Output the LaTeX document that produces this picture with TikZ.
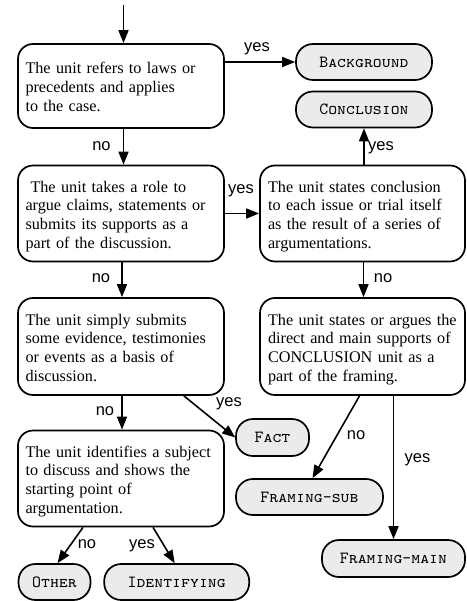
\documentclass[tikz,border=0pt]{standalone}
\usepackage{fontspec}
\setmainfont{Liberation Serif}
\newfontfamily\lblfont{Liberation Sans}
\usetikzlibrary{arrows.meta}
\definecolor{termgray}{gray}{0.92}
\newcommand\tblines[1]{\raisebox{-3pt}[\height][\depth]{\begin{tabular}{@{}l@{}}#1\end{tabular}}}
\begin{document}
\begin{tikzpicture}[x=1pt,y=-1pt,
  ubox/.style={draw, line width=1.7pt, rounded corners=15pt, inner ysep=0pt, align=left,
    font=\fontsize{16.2}{18.8}\selectfont},
  lbox/.style={ubox, text width=191pt, inner xsep=7.5pt},
  rbox/.style={ubox, text width=189pt, inner xsep=8pt},
  term/.style={draw, line width=1.7pt, rounded corners=17pt, fill=termgray, inner sep=0pt,
    font=\fontsize{17}{20}\ttfamily\scshape},
  arr/.style={line width=1.6pt, -{Triangle[length=13pt,width=10pt]}},
  lbl/.style={font=\lblfont\fontsize{16.5}{18}\selectfont, inner sep=0pt}]
\useasboundingbox (0,0) rectangle (466,601);

% decision boxes
\node[lbox, minimum height=84pt] (b1) at (121,86)
  {\tblines{The unit refers to laws or\\precedents and applies\\to the case.}};
\node[lbox, minimum height=96pt] (b2) at (121,213.5)
  {\tblines{\hspace{5pt}The unit takes a role to\\argue claims, statements or\\submits its supports as a\\part of the discussion.}};
\node[rbox, minimum height=96pt] (b3) at (362.5,213.5)
  {\tblines{The unit states conclusion\\to each issue or trial itself\\as the result of a series of\\argumentations.}};
\node[lbox, minimum height=97pt] (b4) at (121,346.5)
  {\tblines{The unit simply submits\\some evidence, testimonies\\or events as a basis of\\discussion.}};
\node[rbox, minimum height=97pt] (b5) at (362.5,346.5)
  {\tblines{The unit states or argues the\\direct and main supports of\\CONCLUSION unit as a\\part of the framing.}};
\node[lbox, minimum height=96pt] (b6) at (121,478.5)
  {\tblines{The unit identifies a subject\\to discuss and shows the\\starting point of\\argumentation.}};

% terminal nodes
\node[term, minimum width=136pt, minimum height=36pt] (bg) at (364,62) {Background};
\node[term, minimum width=136pt, minimum height=36pt] (con) at (364,109.5) {Conclusion};
\node[term, minimum width=73pt, minimum height=37pt] (fact) at (272.5,437.5) {Fact};
\node[term, minimum width=147pt, minimum height=36pt] (fsub) at (309.5,497) {Framing-sub};
\node[term, minimum width=143pt, minimum height=37pt] (fmain) at (393.5,558.5) {Framing-main};
\node[term, minimum width=72pt, minimum height=36pt] (other) at (54.5,582) {Other};
\node[term, minimum width=145pt, minimum height=36pt] (ident) at (176.7,582) {Identifying};

% connectors
\coordinate (start) at (123.5,5);
\draw[arr] (start) -- (start |- b1.north);
\draw[arr] (b1.east |- bg.west) -- (bg.west);
\draw[arr] (b1.south -| start) -- (b2.north -| start);
\draw[arr] (b2.east) -- (b3.west);
\draw[arr] (b3.north -| con.south) -- (con.south);
\draw[arr] ([xshift=1pt]b2.south) -- ([xshift=1pt]b4.north);
\draw[arr] ([xshift=1pt]b3.south) -- ([xshift=1pt]b5.north);
\draw[arr] ([xshift=1pt]b4.south) -- ([xshift=1pt]b6.north);
\draw[arr] ([xshift=-41pt]b4.south east) -- (fact.west);
\draw[arr] ([xshift=-3pt]b5.south) -- ([xshift=3pt]fsub.north);
\draw[arr] (b5.south -| fmain.north) -- (fmain.north);
\draw[arr] ([xshift=-38pt]b6.south) -- ([xshift=3pt]other.north);
\draw[arr] ([xshift=32pt]b6.south) -- ([xshift=-2pt]ident.north);

% labels
\node[lbl] (l1) at (257,49) {yes};
\node[lbl] (l2) at (101.5,146) {no};
\node[lbl] (l3) at (241,191) {yes};
\node[lbl] (l4) at (381,148) {yes};
\node[lbl] (l5) at (101,278.5) {no};
\node[lbl] (l6) at (383,278.5) {no};
\node[lbl] (l7) at (105,411.5) {no};
\node[lbl] (l8) at (229,404) {yes};
\node[lbl] (l9) at (356,435) {no};
\node[lbl] (l10) at (417.5,459.5) {yes};
\node[lbl] (l11) at (87,544) {no};
\node[lbl] (l12) at (142,545.5) {yes};
\end{tikzpicture}
\end{document}
